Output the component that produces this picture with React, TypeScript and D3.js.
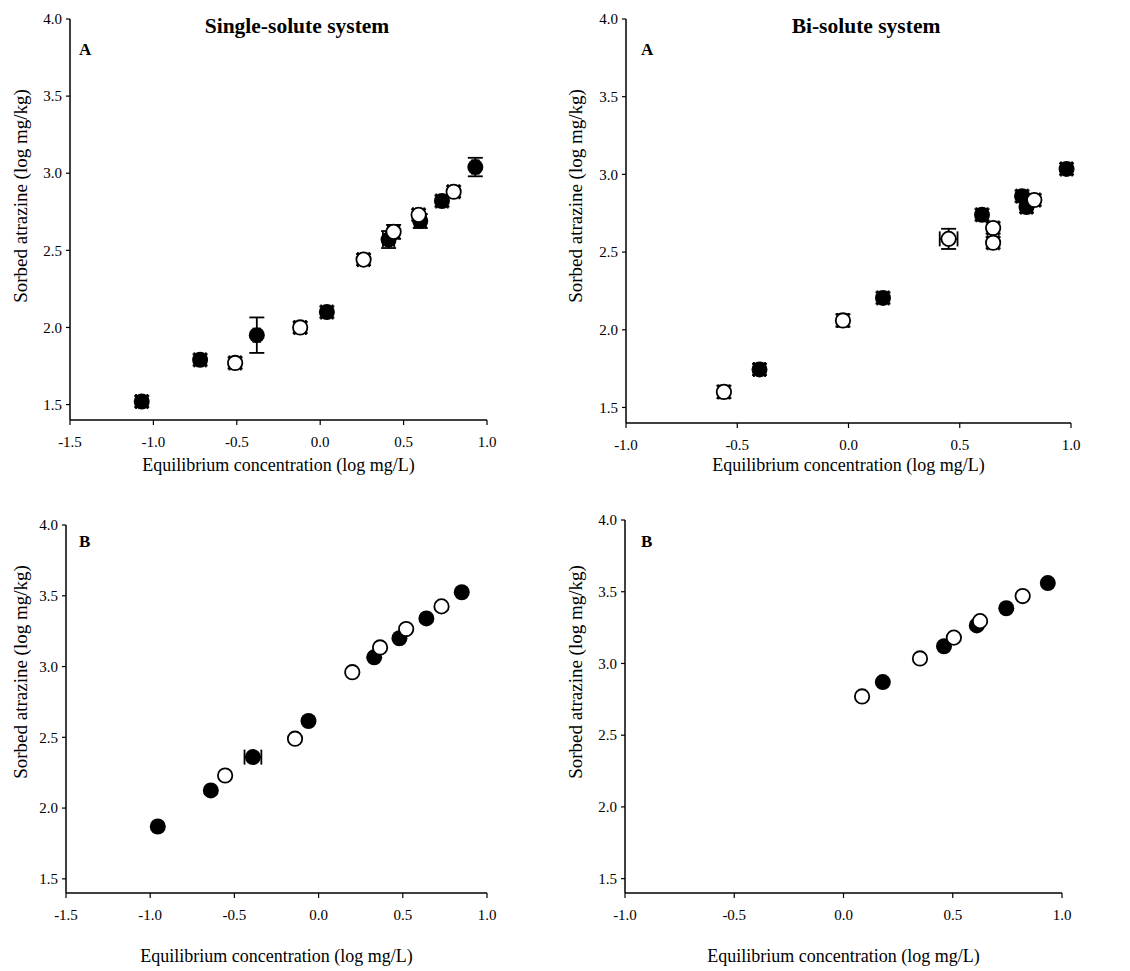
import React from "react";
import * as d3 from "d3";

// sorbed atrazine vs equilibrium concentration, log-log
// each point: [logCe, logCs, xErr, yErr]
type Pt = [number, number, number, number];

const singleA_filled: Pt[] = [
  [-1.07, 1.52, 0.034, 0.036],
  [-0.72, 1.79, 0.034, 0.036],
  [-0.38, 1.95, 0.02, 0.115],
  [0.04, 2.1, 0.034, 0.036],
  [0.41, 2.57, 0.034, 0.055],
  [0.6, 2.69, 0.034, 0.045],
  [0.73, 2.82, 0.034, 0.036],
  [0.93, 3.04, 0.02, 0.06],
];
const singleA_open: Pt[] = [
  [-0.51, 1.77, 0.034, 0.036],
  [-0.12, 2.0, 0.034, 0.036],
  [0.26, 2.44, 0.034, 0.036],
  [0.44, 2.62, 0.034, 0.045],
  [0.59, 2.73, 0.034, 0.036],
  [0.8, 2.88, 0.034, 0.036],
];

const biA_filled: Pt[] = [
  [-0.4, 1.745, 0.025, 0.036],
  [0.155, 2.205, 0.025, 0.036],
  [0.6, 2.74, 0.025, 0.036],
  [0.78, 2.86, 0.025, 0.036],
  [0.8, 2.79, 0.025, 0.036],
  [0.98, 3.035, 0.025, 0.036],
];
const biA_open: Pt[] = [
  [-0.56, 1.6, 0.025, 0.04],
  [-0.025, 2.06, 0.025, 0.04],
  [0.45, 2.585, 0.04, 0.065],
  [0.65, 2.655, 0.025, 0.036],
  [0.65, 2.56, 0.025, 0.036],
  [0.835, 2.835, 0.025, 0.036],
];

const singleB_filled: Pt[] = [
  [-0.955, 1.87, 0, 0],
  [-0.64, 2.125, 0, 0],
  [-0.39, 2.36, 0.05, 0],
  [-0.06, 2.615, 0, 0],
  [0.33, 3.065, 0, 0],
  [0.48, 3.2, 0, 0],
  [0.64, 3.34, 0, 0],
  [0.85, 3.525, 0, 0],
];
const singleB_open: Pt[] = [
  [-0.555, 2.23, 0, 0],
  [-0.14, 2.49, 0, 0],
  [0.2, 2.96, 0, 0],
  [0.365, 3.135, 0, 0],
  [0.52, 3.265, 0, 0],
  [0.73, 3.425, 0, 0],
];

const biB_filled: Pt[] = [
  [0.18, 2.87, 0, 0],
  [0.46, 3.12, 0, 0],
  [0.61, 3.265, 0, 0],
  [0.745, 3.385, 0, 0],
  [0.935, 3.56, 0, 0],
];
const biB_open: Pt[] = [
  [0.085, 2.77, 0, 0],
  [0.35, 3.035, 0, 0],
  [0.505, 3.18, 0, 0],
  [0.625, 3.295, 0, 0],
  [0.82, 3.47, 0, 0],
];

const xTicksSingle = [-1.5, -1.0, -0.5, 0.0, 0.5, 1.0];
const xTicksBi = [-1.0, -0.5, 0.0, 0.5, 1.0];
const yTicks = [1.5, 2.0, 2.5, 3.0, 3.5, 4.0];

const xLabel = "Equilibrium concentration (log mg/L)";
const yLabel = "Sorbed atrazine (log mg/kg)";

const fmt = d3.formatLocale({ decimal: ".", thousands: ",", grouping: [3], currency: ["", ""], minus: "-" }).format(".1f");
const FONT = "'Liberation Serif', 'Times New Roman', serif";

interface PanelProps {
  left: number; right: number; top: number; bottom: number;
  xTicks: number[];
  filled: Pt[]; open: Pt[];
  letter: string; letterX: number; letterY: number;
  title?: string; titleX?: number;
  yLabelX: number; yLabelY: number;
  xLabelY: number;
}

const Panel = (p: PanelProps) => {
  const x = d3.scaleLinear().domain([p.xTicks[0], 1.0]).range([p.left, p.right]);
  const y = d3.scaleLinear().domain([1.4, 4.0]).range([p.bottom, p.top]);
  const cap = 7.5;
  const r = 7.2;

  const errs = (pts: Pt[]) =>
    pts.map((d, i) => {
      const cx = x(d[0]), cy = y(d[1]);
      const out = [];
      if (d[3] > 0) {
        const y1 = y(d[1] + d[3]), y2 = y(d[1] - d[3]);
        out.push(<line key={`v${i}`} x1={cx} x2={cx} y1={y1} y2={y2} />);
        out.push(<line key={`vt${i}`} x1={cx - cap} x2={cx + cap} y1={y1} y2={y1} />);
        out.push(<line key={`vb${i}`} x1={cx - cap} x2={cx + cap} y1={y2} y2={y2} />);
      }
      if (d[2] > 0) {
        const x1 = x(d[0] - d[2]), x2 = x(d[0] + d[2]);
        out.push(<line key={`h${i}`} x1={x1} x2={x2} y1={cy} y2={cy} />);
        out.push(<line key={`hl${i}`} x1={x1} x2={x1} y1={cy - cap} y2={cy + cap} />);
        out.push(<line key={`hr${i}`} x1={x2} x2={x2} y1={cy - cap} y2={cy + cap} />);
      }
      return out;
    });

  const midX = (p.left + p.right) / 2;

  return (
    <g fontFamily={FONT}>
      {/* axes */}
      <line x1={p.left} x2={p.left} y1={p.top} y2={p.bottom} stroke="#000" strokeWidth={1.5} />
      <line x1={p.left} x2={p.right} y1={p.bottom} y2={p.bottom} stroke="#000" strokeWidth={1.5} />
      {yTicks.map(t => (
        <g key={`y${t}`} transform={`translate(${p.left},${y(t)})`}>
          <line x1={-4} x2={0} stroke="#000" strokeWidth={1.2} />
          <text x={-8} dy="0.35em" textAnchor="end" fontSize={15}>{fmt(t)}</text>
        </g>
      ))}
      {p.xTicks.map(t => (
        <g key={`x${t}`} transform={`translate(${x(t)},${p.bottom})`}>
          <line y1={0} y2={5} stroke="#000" strokeWidth={1.2} />
          <text y={27} textAnchor="middle" fontSize={15}>{fmt(t)}</text>
        </g>
      ))}
      <text x={midX} y={p.xLabelY} textAnchor="middle" fontSize={18}>{xLabel}</text>
      <text transform={`translate(${p.yLabelX},${p.yLabelY}) rotate(-90)`} dy="0.35em" textAnchor="middle" fontSize={19}>{yLabel}</text>
      {p.title && (
        <text x={p.titleX} y={33} textAnchor="middle" fontSize={21.5} fontWeight="bold">{p.title}</text>
      )}
      <text x={p.letterX} y={p.letterY} fontSize={17} fontWeight="bold">{p.letter}</text>

      {/* filled series */}
      <g stroke="#000" strokeWidth={1.8}>{errs(p.filled)}</g>
      {p.filled.map((d, i) => (
        <circle key={`f${i}`} cx={x(d[0])} cy={y(d[1])} r={r + 0.8} fill="#000" />
      ))}
      {/* open series */}
      <g stroke="#000" strokeWidth={1.8}>{errs(p.open)}</g>
      {p.open.map((d, i) => (
        <circle key={`o${i}`} cx={x(d[0])} cy={y(d[1])} r={r} fill="#fff" stroke="#000" strokeWidth={1.8} />
      ))}
    </g>
  );
};

export default function App() {
  return (
    <div style={{ position: "absolute", left: 0, top: 0 }}>
      <svg width={1130} height={971} style={{ display: "block", background: "#fff" }}>
        <Panel left={70} right={487} top={19} bottom={420} xTicks={xTicksSingle}
          filled={singleA_filled} open={singleA_open}
          letter="A" letterX={79} letterY={55}
          title="Single-solute system" titleX={297}
          yLabelX={20} yLabelY={196} xLabelY={471} />
        <Panel left={626} right={1071} top={19} bottom={423} xTicks={xTicksBi}
          filled={biA_filled} open={biA_open}
          letter="A" letterX={641} letterY={55}
          title="Bi-solute system" titleX={866}
          yLabelX={575} yLabelY={196} xLabelY={471} />
        <Panel left={66} right={487} top={525} bottom={893} xTicks={xTicksSingle}
          filled={singleB_filled} open={singleB_open}
          letter="B" letterX={79} letterY={547}
          yLabelX={20} yLabelY={672} xLabelY={962} />
        <Panel left={625} right={1062} top={520} bottom={893} xTicks={xTicksBi}
          filled={biB_filled} open={biB_open}
          letter="B" letterX={641} letterY={547}
          yLabelX={575} yLabelY={672} xLabelY={962} />
      </svg>
    </div>
  );
}
